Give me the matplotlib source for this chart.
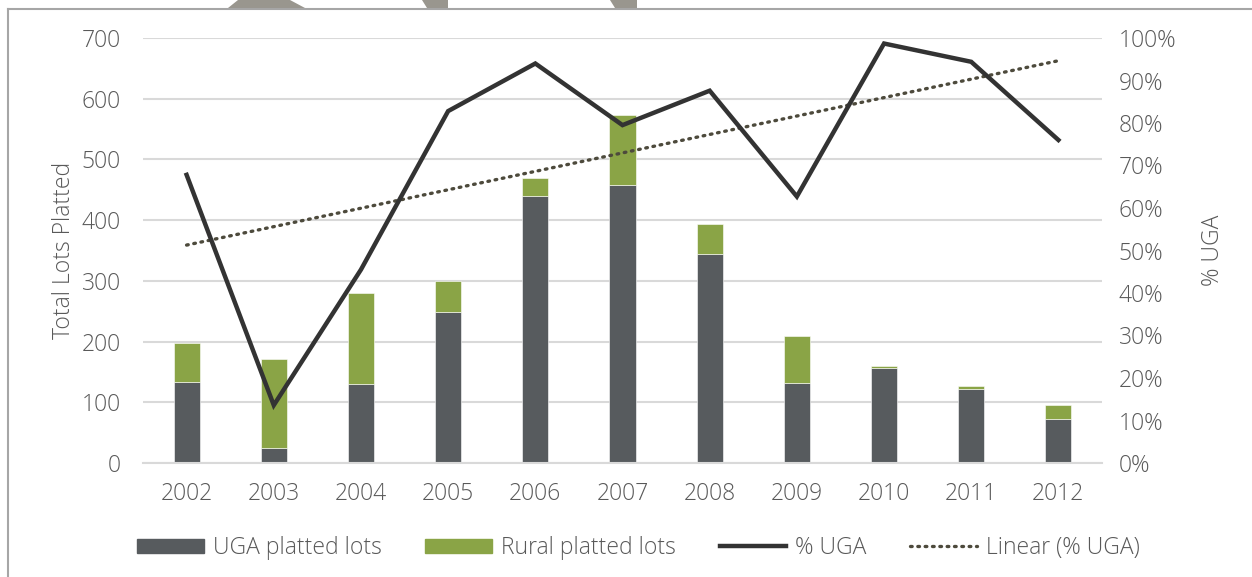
import matplotlib
matplotlib.use('Agg')
import matplotlib.pyplot as plt
import matplotlib.patches as mpatches
from matplotlib.lines import Line2D
from matplotlib.ticker import FuncFormatter
import numpy as np

plt.rcParams.update({
    'font.family': ['Open Sans', 'DejaVu Sans'],
    'font.weight': 'light',
    'font.size': 16.5,
    'text.color': '#595959',
    'axes.labelcolor': '#595959',
    'axes.labelweight': 'light',
    'xtick.color': '#595959', 'ytick.color': '#595959',
})

years = ['2002', '2003', '2004', '2005', '2006', '2007', '2008', '2009', '2010', '2011', '2012']
uga_lots = [134, 24, 130, 248, 440, 458, 345, 131, 157, 122, 72]
total_lots = [197, 171, 280, 300, 469, 574, 393, 210, 159, 127, 95]
rural_lots = [t - u for t, u in zip(total_lots, uga_lots)]
pct_uga = [0.678, 0.136, 0.455, 0.828, 0.940, 0.795, 0.876, 0.627, 0.987, 0.944, 0.760]

COLORS = {'uga': '#575b5e', 'rural': '#8aa446', 'line': '#333333',
          'trend': '#4d4a3c', 'grid': '#d9d9d9', 'text': '#595959'}

W, H = 1252, 577
fig = plt.figure(figsize=(W / 100, H / 100), dpi=100)
fig.patch.set_facecolor('white')

# frame (left + top only) and stray shapes at top edge
fig.add_artist(Line2D([8 / W, 8 / W], [0, 1 - 9 / H], transform=fig.transFigure,
                      color='#a6a6a6', lw=1.5))
fig.add_artist(Line2D([8 / W, 1], [1 - 9 / H, 1 - 9 / H], transform=fig.transFigure,
                      color='#a6a6a6', lw=1.5))
for pts in ([(228, 8), (305, 8), (290, 0), (238, 0)],
            [(427, 8), (448, 8), (448, 0), (422, 0)],
            [(615, 8), (637, 8), (637, 0), (610, 0)]):
    fig.add_artist(mpatches.Polygon([(px / W, 1 - py / H) for px, py in pts], closed=True,
                                    transform=fig.transFigure, color='#99968e', lw=0))

ax = fig.add_axes([143 / W, (H - 463) / H, (1102 - 143) / W, (463 - 38) / H])
x = np.arange(len(years))

ax.bar(x, uga_lots, width=0.3, color=COLORS['uga'], edgecolor='white', linewidth=0.4,
       label='UGA platted lots', zorder=2)
ax.bar(x, rural_lots, width=0.3, bottom=uga_lots, color=COLORS['rural'], edgecolor='white',
       linewidth=0.4, label='Rural platted lots', zorder=2)

ax.set_ylim(0, 700)
ax.set_xlim(-0.5, len(years) - 0.5)
ax.set_yticks(range(0, 701, 100))
ax.set_xticks(x)
ax.set_xticklabels(years)
ax.grid(True, axis='y', color=COLORS['grid'], linewidth=1.5, zorder=0)
ax.set_axisbelow(True)
for s in ['top', 'right', 'left']:
    ax.spines[s].set_visible(False)
ax.spines['bottom'].set_color(COLORS['grid'])
ax.spines['bottom'].set_linewidth(1.5)
ax.tick_params(axis='both', length=0)
ax.tick_params(axis='x', pad=14)
ax.tick_params(axis='y', pad=16)
ax.set_ylabel('Total Lots Platted', labelpad=4)

ax2 = ax.twinx()
ax2.plot(x, pct_uga, color=COLORS['line'], linewidth=3.2, solid_joinstyle='miter',
         label='% UGA', zorder=4)
coef = np.polyfit(x, pct_uga, 1)
ax2.plot(x, np.polyval(coef, x), color=COLORS['trend'], linewidth=2.4,
         linestyle=(0, (0.5, 1.7)), dash_capstyle='round', label='Linear (% UGA)', zorder=3)
ax2.set_ylim(0, 1)
ax2.set_yticks(np.linspace(0, 1, 11))
ax2.yaxis.set_major_formatter(FuncFormatter(lambda v, p: f'{v * 100:.0f}%'))
for s in ax2.spines.values():
    s.set_visible(False)
ax2.tick_params(axis='y', length=0, pad=12)
ax2.set_ylabel('% UGA', labelpad=18, rotation=90)

handles = [
    mpatches.Patch(color=COLORS['uga'], label='UGA platted lots'),
    mpatches.Patch(color=COLORS['rural'], label='Rural platted lots'),
    Line2D([0], [0], color=COLORS['line'], lw=3.2, label='% UGA'),
    Line2D([0], [0], color=COLORS['trend'], lw=2.4, linestyle=(0, (0.5, 1.7)),
           dash_capstyle='round', label='Linear (% UGA)'),
]
fig.legend(handles=handles, loc='center', bbox_to_anchor=(0.51, 29 / H), ncol=4,
           frameon=False, handlelength=2.9, handleheight=0.55, handletextpad=0.4,
           columnspacing=1.9)

plt.savefig('out.png', dpi=100)
plt.close()
